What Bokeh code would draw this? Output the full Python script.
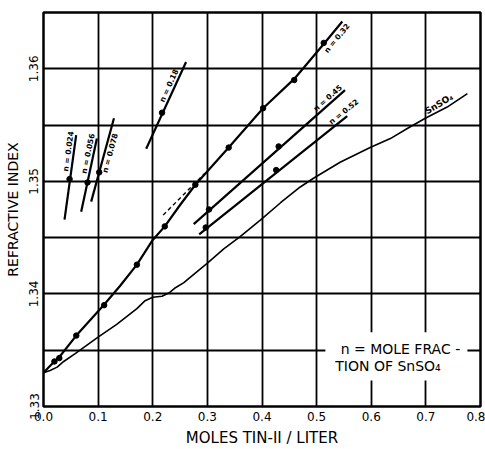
import math
import numpy as np
from bokeh.plotting import figure
from bokeh.models import FixedTicker, Label
from bokeh.embed import file_html
from bokeh.resources import INLINE

# ---- axes ----
x_ticks = [0.0, 0.1, 0.2, 0.3, 0.4, 0.5, 0.6, 0.7, 0.8]
x_tick_labels = ["0.0", "0.1", "0.2", "0.3", "0.4", "0.5", "0.6", "0.7", "0.8"]
y_ticks = [1.33, 1.34, 1.35, 1.36]
y_tick_labels = ["1.33", "1.34", "1.35", "1.36"]
y_grid = [1.330, 1.335, 1.340, 1.345, 1.350, 1.355, 1.360, 1.365]

# ---- main curve, n = 0.32 (smooth trace and measured points) ----
main_curve_x = [0.000, 0.010, 0.020, 0.029, 0.060, 0.110, 0.140, 0.171, 0.200,
                0.222, 0.250, 0.278, 0.339, 0.402, 0.459, 0.513, 0.547]
main_curve_y = [1.3330, 1.3335, 1.3340, 1.3344, 1.3363, 1.3390, 1.3407, 1.3426, 1.3448,
                1.3460, 1.3479, 1.3497, 1.3530, 1.3565, 1.3591, 1.3622, 1.3642]
main_pts_x = [0.020, 0.029, 0.060, 0.111, 0.171, 0.222, 0.278, 0.339, 0.402, 0.459, 0.513]
main_pts_y = [1.3340, 1.3343, 1.3363, 1.3390, 1.3426, 1.3460, 1.3497, 1.3530, 1.3565, 1.3590, 1.3623]

# ---- pure SnSO4 ----
snso4_x = [0.000, 0.012, 0.025, 0.037, 0.058, 0.098, 0.134, 0.171, 0.186, 0.200,
           0.217, 0.230, 0.240, 0.257, 0.269, 0.299, 0.330, 0.360, 0.398, 0.434,
           0.470, 0.495, 0.543, 0.598, 0.635, 0.666, 0.699, 0.739, 0.776]
snso4_y = [1.3330, 1.3332, 1.3335, 1.3340, 1.3347, 1.3361, 1.3373, 1.3387, 1.3394, 1.3397,
           1.3398, 1.3401, 1.3405, 1.3410, 1.3415, 1.3427, 1.3440, 1.3451, 1.3466, 1.3481,
           1.3495, 1.3503, 1.3517, 1.3530, 1.3538, 1.3547, 1.3556, 1.3566, 1.3578]

# ---- constant mole-fraction lines ----
n_values = ["0.024", "0.056", "0.078", "0.18", "0.45", "0.52"]
n_line_x0 = [0.0385, 0.069, 0.0873, 0.188, 0.275, 0.285]
n_line_y0 = [1.3466, 1.3473, 1.3482, 1.3529, 1.3462, 1.3453]
n_line_x1 = [0.0598, 0.0977, 0.129, 0.261, 0.552, 0.556]
n_line_y1 = [1.3541, 1.3538, 1.3556, 1.3606, 1.3581, 1.3558]
n_pts_x = [0.0477, 0.0806, 0.102, 0.217, 0.303, 0.4305, 0.297, 0.426]
n_pts_y = [1.3502, 1.3499, 1.3508, 1.3561, 1.3475, 1.3531, 1.3459, 1.3510]

# extrapolation of the n = 0.32 straight part
dash_x = [0.219, 0.295]
dash_y = [1.3470, 1.3507]

X_START, X_END = 0.0, 0.8
Y_START, Y_END = 1.33, 1.365
W, H = 485, 449
B_LEFT, B_RIGHT, B_TOP, B_BOTTOM = 43, 5, 12, 41
FRAME_W = W - B_LEFT - B_RIGHT
FRAME_H = H - B_TOP - B_BOTTOM
SX = FRAME_W / (X_END - X_START)
SY = FRAME_H / (Y_END - Y_START)

p = figure(width=W, height=H, x_range=(X_START, X_END), y_range=(Y_START, Y_END),
           output_backend="svg", toolbar_location=None,
           min_border_left=B_LEFT, min_border_right=B_RIGHT,
           min_border_top=B_TOP, min_border_bottom=B_BOTTOM,
           background_fill_color="white", border_fill_color="white")
p.outline_line_color = "black"
p.outline_line_width = 2.5
p.outline_line_alpha = 1.0

p.xaxis.ticker = FixedTicker(ticks=x_ticks)
p.xaxis.major_label_overrides = dict(zip(x_ticks, x_tick_labels))
p.yaxis.ticker = FixedTicker(ticks=y_ticks)
p.yaxis.major_label_overrides = dict(zip(y_ticks, y_tick_labels))
p.yaxis.major_label_orientation = "vertical"
p.yaxis.major_label_text_align = "left"
p.xgrid.ticker = FixedTicker(ticks=x_ticks)
p.ygrid.ticker = FixedTicker(ticks=y_grid)
for g in (p.xgrid, p.ygrid):
    g.grid_line_color = "black"
    g.grid_line_width = 1.8
    g.grid_line_alpha = 1.0

for ax in (p.xaxis, p.yaxis):
    ax.axis_line_color = None
    ax.major_tick_line_color = None
    ax.minor_tick_line_color = None
    ax.major_tick_out = 0
    ax.major_tick_in = 0
    ax.minor_tick_out = 0
    ax.minor_tick_in = 0
    ax.major_label_text_font = "DejaVu Sans"
    ax.major_label_text_font_size = "12px"
    ax.major_label_text_color = "black"
    ax.axis_label_text_font = "DejaVu Sans"
    ax.axis_label_text_font_style = "normal"
    ax.axis_label_text_font_size = "14px"
    ax.axis_label_text_color = "black"
p.xaxis.axis_label = "MOLES TIN-II / LITER"
p.yaxis.axis_label = "REFRACTIVE INDEX"
p.xaxis.axis_label_text_font_size = "15px"
p.xaxis.major_label_standoff = 5
p.yaxis.major_label_standoff = 5
p.xaxis.axis_label_standoff = 5
p.yaxis.axis_label_standoff = 6

# white panel behind the note on n (interrupts the grid)
p.quad(left=0.516, right=0.776, bottom=1.3323, top=1.3366,
       fill_color="white", line_color=None)

# curves
p.line(snso4_x, snso4_y, line_color="black", line_width=1.6)
p.line(main_curve_x, main_curve_y, line_color="black", line_width=2.2)
p.line(dash_x, dash_y, line_color="black", line_width=1.4, line_dash="4 3")
p.segment(x0=n_line_x0, y0=n_line_y0, x1=n_line_x1, y1=n_line_y1,
          line_color="black", line_width=2.2)
p.scatter(main_pts_x, main_pts_y, size=5.5, fill_color="black", line_color="black")
p.scatter(n_pts_x, n_pts_y, size=5.5, fill_color="black", line_color="black")


def screen_angle(x0, y0, x1, y1):
    return math.atan2((y1 - y0) * SY, (x1 - x0) * SX)


def line_label(text, x0, y0, x1, y1, t, side, gap=1.0):
    ang = screen_angle(x0, y0, x1, y1)
    x = x0 + t * (x1 - x0)
    y = y0 + t * (y1 - y0)
    sgn = 1.0 if side == "above" else -1.0
    p.add_layout(Label(x=x, y=y, text=text, angle=ang,
                       x_offset=-sgn * gap * math.sin(ang),
                       y_offset=sgn * gap * math.cos(ang),
                       text_align="center",
                       text_baseline="bottom" if side == "above" else "top",
                       text_font="DejaVu Sans", text_font_style="bold",
                       text_font_size="7.5px", text_color="black"))


# labels along each constant-n line: (position along line, side)
placement = [(0.80, "above"), (0.78, "above"), (0.60, "below"),
             (0.70, "above"), (0.91, "above"), (1.00, "above")]
for i, nv in enumerate(n_values):
    t, side = placement[i]
    line_label("n = " + nv, n_line_x0[i], n_line_y0[i], n_line_x1[i], n_line_y1[i], t, side)

# n = 0.32 along the top of the main curve
xa = 0.528
ya = float(np.interp(xa, main_curve_x, main_curve_y))
ang32 = screen_angle(main_curve_x[-2], main_curve_y[-2], main_curve_x[-1], main_curve_y[-1])
p.add_layout(Label(x=xa, y=ya, text="n = 0.32", angle=ang32,
                   x_offset=2 * math.sin(ang32), y_offset=-2 * math.cos(ang32),
                   text_align="center", text_baseline="top",
                   text_font="DejaVu Sans", text_font_style="bold",
                   text_font_size="7.5px", text_color="black"))

# SnSO4 label on its curve
xs = 0.730
ys = float(np.interp(xs, snso4_x, snso4_y))
angs = screen_angle(snso4_x[-3], snso4_y[-3], snso4_x[-1], snso4_y[-1])
p.add_layout(Label(x=xs, y=ys, text="SnSO\u2084", angle=angs,
                   x_offset=-1.5 * math.sin(angs), y_offset=1.5 * math.cos(angs),
                   text_align="center", text_baseline="bottom",
                   text_font="DejaVu Sans", text_font_style="bold",
                   text_font_size="9px", text_color="black"))

# note explaining n
p.add_layout(Label(x=0.6534, y=1.33514, text="n = MOLE FRAC -",
                   text_align="center", text_baseline="middle",
                   text_font="DejaVu Sans", text_font_size="14px", text_color="black"))
p.add_layout(Label(x=0.6388, y=1.33364, text="TION  OF  SnSO\u2084",
                   text_align="center", text_baseline="middle",
                   text_font="DejaVu Sans", text_font_size="14px", text_color="black"))

open("out.html", "w").write(file_html(p, INLINE))
